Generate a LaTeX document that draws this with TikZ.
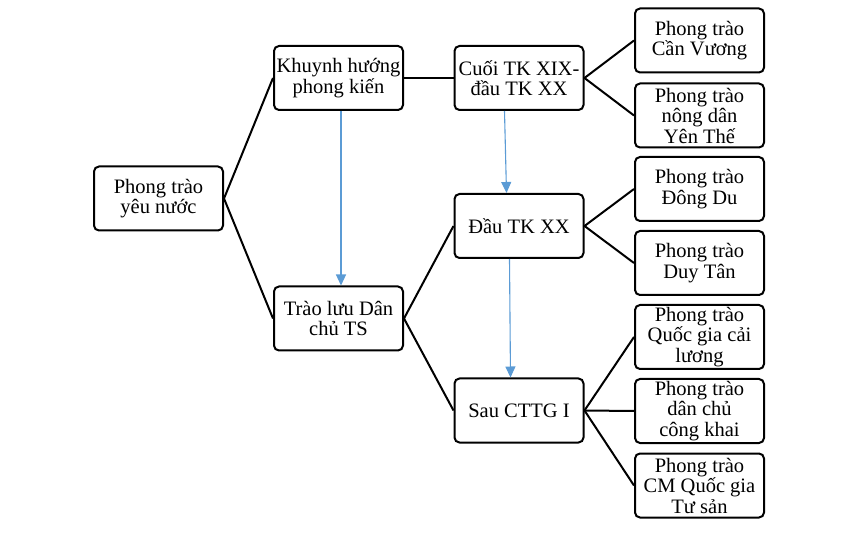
\documentclass[tikz,border=0pt]{standalone}
\usepackage{fontspec}
\setmainfont{Liberation Serif}
\definecolor{flowblue}{RGB}{91,155,213}
\usetikzlibrary{arrows.meta,positioning}

\tikzset{
  box/.style={draw, line width=2pt, rounded corners=5pt, minimum width=129pt, minimum height=64pt,
    inner xsep=1pt, inner ysep=0.5pt, align=center, font=\fontsize{20.5}{20.5}\selectfont},
  link/.style={line width=2pt},
  flow/.style={flowblue, line width=1.1pt, -{Triangle[length=11pt,width=10pt]}}
}

\begin{document}
\begin{tikzpicture}[x=1pt,y=-1pt]
\useasboundingbox (0,0) rectangle (855,548);
% tree
\node[box] (root) at (158.5,198.5) {Phong trào\\yêu nước};
\node[box] (feudal) at (338.5,78) {Khuynh hướng\\phong kiến};
\node[box] (bourg) at (338.5,318.5) {Trào lưu Dân\\chủ TS};
\node[box] (late) at (519,78) {Cuối TK XIX-\\đầu TK XX};
\node[box] (early) at (519,226) {Đầu TK XX};
\node[box] (postwar) at (519,410.5) {Sau CTTG I};
% movements
\node[box] (canvuong) at (699.5,40.5) {Phong trào\\Cần Vương};
\node[box] (yenthe) at (699.5,115.5) {Phong trào\\nông dân\\Yên Thế};
\node[box] (dongdu) at (699.5,189) {Phong trào\\Đông Du};
\node[box] (duytan) at (699.5,263) {Phong trào\\Duy Tân};
\node[box] (cailuong) at (699.5,337) {Phong trào\\Quốc gia cải\\lương};
\node[box] (congkhai) at (699.5,411) {Phong trào\\dân chủ\\công khai};
\node[box] (tusan) at (699.5,485.5) {Phong trào\\CM Quốc gia\\Tư sản};

\draw[link] (feudal.west) -- (root.east) -- (bourg.west);
\draw[link] (feudal.east) -- (late.west);
\draw[link] (canvuong.west) -- (late.east) -- (yenthe.west);
\draw[link] (early.west) -- (bourg.east) -- (postwar.west);
\draw[link] (dongdu.west) -- (early.east) -- (duytan.west);
\draw[link] (cailuong.west) -- (postwar.east) -- (tusan.west);
\draw[link] (postwar.east) -- (congkhai.west);

% time arrows
\draw[flow] ([xshift=2.5pt]feudal.south) -- ([xshift=2.5pt]bourg.north);
\draw[flow] ([xshift=-14.5pt]late.south) -- ([xshift=-12.5pt]early.north);
\draw[flow] ([xshift=-9.5pt]early.south) -- ([xshift=-8.5pt]postwar.north);
\end{tikzpicture}
\end{document}
